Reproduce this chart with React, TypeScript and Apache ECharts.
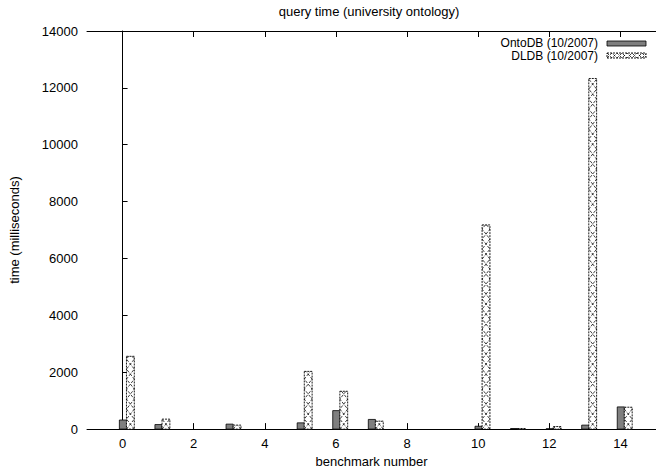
import React, { useEffect, useRef } from "react";
import * as echarts from "echarts";

const TITLE = "query time (university ontology)";
const X_NAME = "benchmark number";
const Y_NAME = "time (milliseconds)";
const SERIES_NAMES = ["OntoDB (10/2007)", "DLDB (10/2007)"];
const BENCHMARKS = [0, 1, 2, 3, 4, 5, 6, 7, 8, 9, 10, 11, 12, 13, 14];
const ONTODB = [320, 160, 0, 175, 0, 220, 650, 340, 0, 0, 100, 20, 12, 140, 780];
const DLDB = [2560, 350, 0, 140, 0, 2030, 1330, 280, 0, 0, 7180, 20, 90, 12330, 770];
const X_TICKS = [0, 2, 4, 6, 8, 10, 12, 14];

const FONT = "'Liberation Sans', Arial, Helvetica, sans-serif";
const GRAY = "#7f7f7f";

function zig(x0: number, x1: number, yTop: number, yBot: number, c: number, startLeft: boolean) {
  const pts: number[][] = [];
  let y = yBot;
  let left = startLeft;
  pts.push([left ? x0 : x1, y]);
  let guard = 0;
  while (y > yTop && guard < 5000) {
    guard++;
    const ny = y - c;
    const xa = left ? x0 : x1;
    const xb = left ? x1 : x0;
    if (ny <= yTop) {
      const f = (y - yTop) / c;
      pts.push([xa + (xb - xa) * f, yTop]);
      break;
    }
    pts.push([xb, ny]);
    left = !left;
    y = ny;
  }
  return pts;
}

function zigH(x0: number, x1: number, yTop: number, yBot: number, c: number, startTop: boolean) {
  const pts: number[][] = [];
  let x = x0;
  let top = startTop;
  pts.push([x, top ? yTop : yBot]);
  let guard = 0;
  while (x < x1 && guard < 5000) {
    guard++;
    const nx = x + c;
    const ya = top ? yTop : yBot;
    const yb = top ? yBot : yTop;
    if (nx >= x1) {
      const f = (x1 - x) / c;
      pts.push([x1, ya + (yb - ya) * f]);
      break;
    }
    pts.push([nx, yb]);
    top = !top;
    x = nx;
  }
  return pts;
}

const hatchStyle = { stroke: "#000", fill: "transparent", lineWidth: 0.75, lineDash: [3, 1.5] };

export default function App() {
  const ref = useRef<HTMLDivElement>(null);
  useEffect(() => {
    if (!ref.current) return;
    const chart = echarts.init(ref.current, null, { renderer: "svg" });

    const ontoData = BENCHMARKS.map((b, i) => [b, ONTODB[i]]);
    const dldbData = BENCHMARKS.map((b, i) => [b, DLDB[i]]);

    const ontoRender = (params: any, api: any) => {
      const b = api.value(0);
      const v = api.value(1);
      if (!v) return null;
      const p0 = api.coord([b - 0.09, v]);
      const p1 = api.coord([b + 0.11, 0]);
      return {
        type: "rect",
        shape: { x: p0[0], y: p0[1], width: p1[0] - p0[0], height: p1[1] - p0[1] },
        style: { fill: GRAY, stroke: "#000", lineWidth: 0.8 },
      };
    };
    const dldbRender = (params: any, api: any) => {
      const b = api.value(0);
      const v = api.value(1);
      if (!v) return null;
      const p0 = api.coord([b + 0.11, v]);
      const p1 = api.coord([b + 0.33, 0]);
      const x0 = p0[0], x1 = p1[0], yT = p0[1], yB = p1[1];
      const children: any[] = [
        {
          type: "rect",
          shape: { x: x0, y: yT, width: x1 - x0, height: yB - yT },
          style: { fill: "#fff", stroke: "#000", lineWidth: 0.9, lineDash: [2, 1] },
        },
      ];
      if (yB - yT > 1) {
        children.push({ type: "polyline", shape: { points: zig(x0, x1, yT, yB, 10, true) }, style: hatchStyle });
        children.push({ type: "polyline", shape: { points: zig(x0, x1, yT, yB, 10, false) }, style: hatchStyle });
      }
      return { type: "group", children };
    };

    const lx0 = 607, lx1 = 646;
    const option: any = {
      animation: false,
      grid: { left: 83, top: 31, right: -4, bottom: 42, containLabel: false },
      xAxis: [
        {
          type: "value",
          min: -1,
          max: 15,
          interval: 1,
          position: "bottom",
          name: X_NAME,
          nameLocation: "middle",
          nameGap: 25,
          nameTextStyle: { fontFamily: FONT, fontSize: 13, color: "#000" },
          axisLine: { show: true, onZero: false, lineStyle: { color: "#000", width: 1 } },
          axisTick: { show: true, inside: true, length: 6, customValues: X_TICKS, lineStyle: { color: "#000" } },
          axisLabel: { show: true, customValues: X_TICKS, margin: 8, fontFamily: FONT, fontSize: 13, color: "#000", formatter: (v: number) => String(v) },
          splitLine: { show: false },
        },
        {
          type: "value",
          min: -1,
          max: 15,
          interval: 1,
          position: "top",
          axisLine: { show: true, onZero: false, lineStyle: { color: "#000", width: 1 } },
          axisTick: { show: true, inside: true, length: 6, customValues: X_TICKS, lineStyle: { color: "#000" } },
          axisLabel: { show: false },
          splitLine: { show: false },
        },
      ],
      yAxis: {
        type: "value",
        min: 0,
        max: 14000,
        interval: 2000,
        name: Y_NAME,
        nameLocation: "middle",
        nameGap: 66,
        nameTextStyle: { fontFamily: FONT, fontSize: 13, color: "#000" },
        axisLine: { show: true, lineStyle: { color: "#000", width: 1 } },
        axisTick: { show: true, inside: true, length: 5, lineStyle: { color: "#000" } },
        axisLabel: { margin: 9, fontFamily: FONT, fontSize: 13, color: "#000", formatter: (v: number) => String(v) },
        splitLine: { show: false },
      },
      series: [
        { type: "custom", name: SERIES_NAMES[0], data: ontoData, renderItem: ontoRender, xAxisIndex: 0, yAxisIndex: 0, clip: false },
        { type: "custom", name: SERIES_NAMES[1], data: dldbData, renderItem: dldbRender, xAxisIndex: 0, yAxisIndex: 0, clip: false },
      ],
      graphic: [
        {
          type: "text",
          x: 369,
          y: 11,
          style: { text: TITLE, fontFamily: FONT, fontSize: 13, fill: "#000", textAlign: "center", textVerticalAlign: "middle" },
        },
        {
          type: "text",
          x: 598,
          y: 43,
          style: { text: SERIES_NAMES[0], fontFamily: FONT, fontSize: 12, fill: "#000", textAlign: "right", textVerticalAlign: "middle" },
        },
        {
          type: "text",
          x: 598,
          y: 55.5,
          style: { text: SERIES_NAMES[1], fontFamily: FONT, fontSize: 12, fill: "#000", textAlign: "right", textVerticalAlign: "middle" },
        },
        {
          type: "rect",
          shape: { x: lx0, y: 41, width: lx1 - lx0, height: 5 },
          style: { fill: GRAY, stroke: "#000", lineWidth: 0.8 },
        },
        {
          type: "rect",
          shape: { x: lx0, y: 53, width: lx1 - lx0, height: 5 },
          style: { fill: "#fff", stroke: "#000", lineWidth: 0.9, lineDash: [2, 1] },
        },
        { type: "polyline", shape: { points: zigH(lx0, lx1, 53, 58, 5, true) }, style: hatchStyle },
        { type: "polyline", shape: { points: zigH(lx0, lx1, 53, 58, 5, false) }, style: hatchStyle },
      ],
    };
    chart.setOption(option);
    return () => chart.dispose();
  }, []);
  return <div ref={ref} style={{ width: 656, height: 473, position: "absolute", left: 0, top: 0 }} />;
}
